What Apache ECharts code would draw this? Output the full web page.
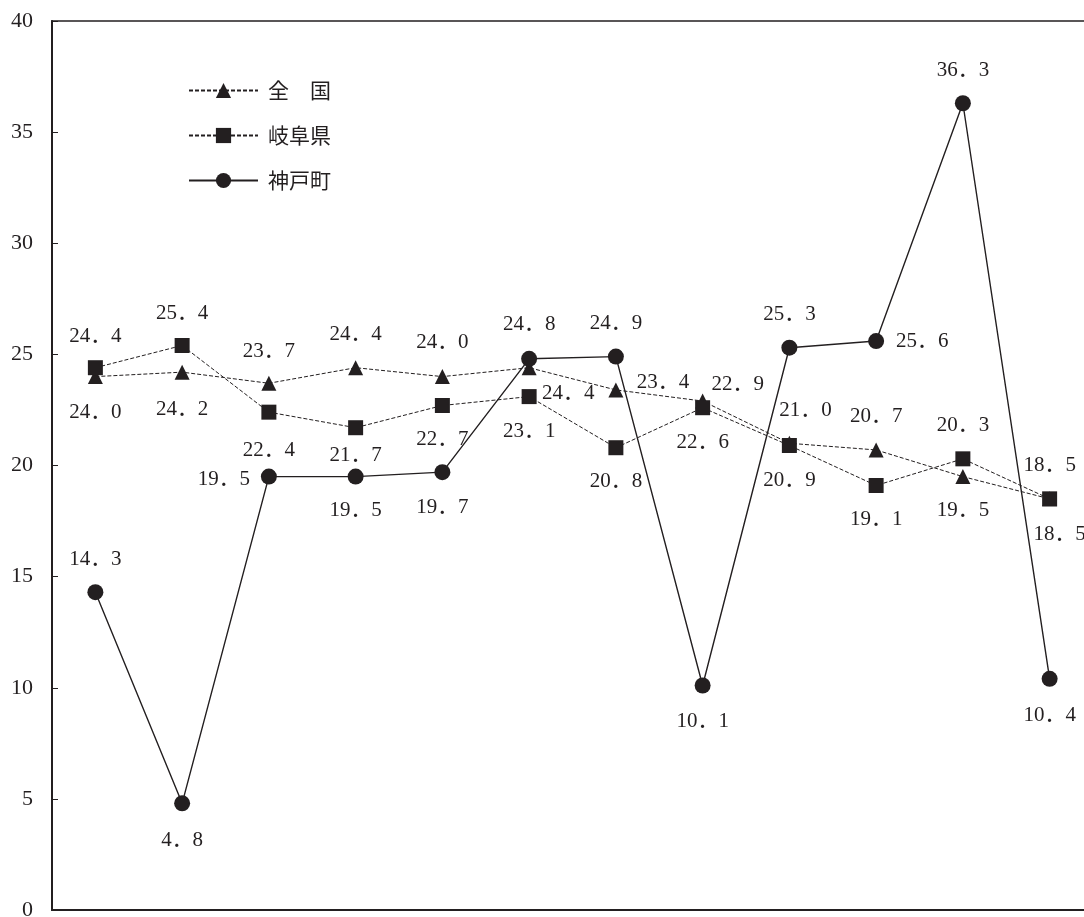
<!DOCTYPE html>
<html>
<head>
<meta charset="utf-8">
<script src="https://cdn.jsdelivr.net/npm/echarts@6/dist/echarts.min.js"></script>
<style>
  html, body { margin: 0; padding: 0; background: #fff; }
  #chart { width: 1084px; height: 917px; }
</style>
</head>
<body>
<div id="chart"></div>
<script>
// Twelve periods, left to right
const categories = ['1', '2', '3', '4', '5', '6', '7', '8', '9', '10', '11', '12'];

const seriesNames = ['全\u3000国', '岐阜県', '神戸町'];
const zenkoku = [24.0, 24.2, 23.7, 24.4, 24.0, 24.4, 23.4, 22.9, 21.0, 20.7, 19.5, 18.5];
const gifu     = [24.4, 25.4, 22.4, 21.7, 22.7, 23.1, 20.8, 22.6, 20.9, 19.1, 20.3, 18.5];
const godo     = [14.3, 4.8, 19.5, 19.5, 19.7, 24.8, 24.9, 10.1, 25.3, 25.6, 36.3, 10.4];

const yTicks = { min: 0, max: 40, interval: 5 };

// Label offsets (px from the marker centre) so the value labels do not collide
const zenkokuLabelOffsets = [[0, 36], [0, 37], [0, -32], [0, -33], [0, -34], [39, 26],
                             [47, -7], [35, -17], [16, -33], [0, -33], [0, 34], [0, -33]];
const gifuLabelOffsets    = [[0, -31], [0, -32], [0, 38], [0, 28], [0, 34], [0, 35],
                             [0, 34], [0, 35], [0, 35], [0, 34], [0, -33], [10, 36]];
const godoLabelOffsets    = [[0, -33], [0, 37], [-45, 3], [0, 34], [0, 35], [0, -34],
                             [0, -33], [0, 36], [0, -33], [46, 0], [0, -33], [0, 37]];

const INK = '#231f20';
const SERIF = 'Liberation Serif, DejaVu Serif, Noto Sans CJK JP, serif';

function withLabels(values, offsets) {
  return values.map((v, i) => ({
    value: v,
    label: { offset: offsets[i] }
  }));
}

function valueLabel(p) {
  // full-width period as in the printed figures
  return p.value.toFixed(1).replace('.', '\uFF0E');
}

const labelStyle = {
  show: true,
  position: 'inside',
  align: 'center',
  verticalAlign: 'middle',
  color: INK,
  fontFamily: SERIF,
  fontSize: 21,
  formatter: valueLabel
};

function lineSeries(name, values, offsets, symbol, size, dashed) {
  return {
    name: name,
    type: 'line',
    data: withLabels(values, offsets),
    symbol: symbol,
    symbolSize: size,
    showAllSymbol: true,
    itemStyle: { color: INK },
    lineStyle: dashed
      ? { color: INK, width: 1, type: [4, 2] }
      : { color: INK, width: 1.4, type: 'solid' },
    label: labelStyle,
    emphasis: { disabled: true }
  };
}

const chart = echarts.init(document.getElementById('chart'), null, { renderer: 'canvas' });

chart.setOption({
  animation: false,
  backgroundColor: '#fff',
  grid: {
    left: 52, top: 21, width: 1041, bottom: 7,
    outerBoundsMode: 'none',
    containLabel: false,
    show: true, borderColor: INK, borderWidth: 1.5, backgroundColor: 'transparent'
  },
  legend: {
    orient: 'vertical',
    left: 188, top: 80, padding: 0,
    itemWidth: 69, itemHeight: 19, itemGap: 24,
    data: seriesNames,
    textStyle: {
      fontFamily: 'Noto Sans CJK JP, sans-serif',
      fontSize: 21, color: INK, lineHeight: 20,
      padding: [0, 0, 0, 5]
    }
  },
  xAxis: {
    type: 'category',
    data: categories,
    boundaryGap: true,
    axisLine: { show: true, lineStyle: { color: INK, width: 2 } },
    axisTick: { show: false },
    axisLabel: { show: false },
    splitLine: { show: false }
  },
  yAxis: {
    type: 'value',
    min: yTicks.min, max: yTicks.max, interval: yTicks.interval,
    axisLine: { show: true, lineStyle: { color: INK, width: 2 } },
    axisTick: { show: true, inside: true, length: 6, lineStyle: { color: INK, width: 1 } },
    axisLabel: { color: INK, fontFamily: SERIF, fontSize: 22, margin: 19 },
    splitLine: { show: false }
  },
  series: [
    lineSeries(seriesNames[0], zenkoku, zenkokuLabelOffsets, 'triangle', 15, true),
    lineSeries(seriesNames[1], gifu, gifuLabelOffsets, 'rect', 15, true),
    lineSeries(seriesNames[2], godo, godoLabelOffsets, 'circle', 16, false)
  ]
});
</script>
</body>
</html>
